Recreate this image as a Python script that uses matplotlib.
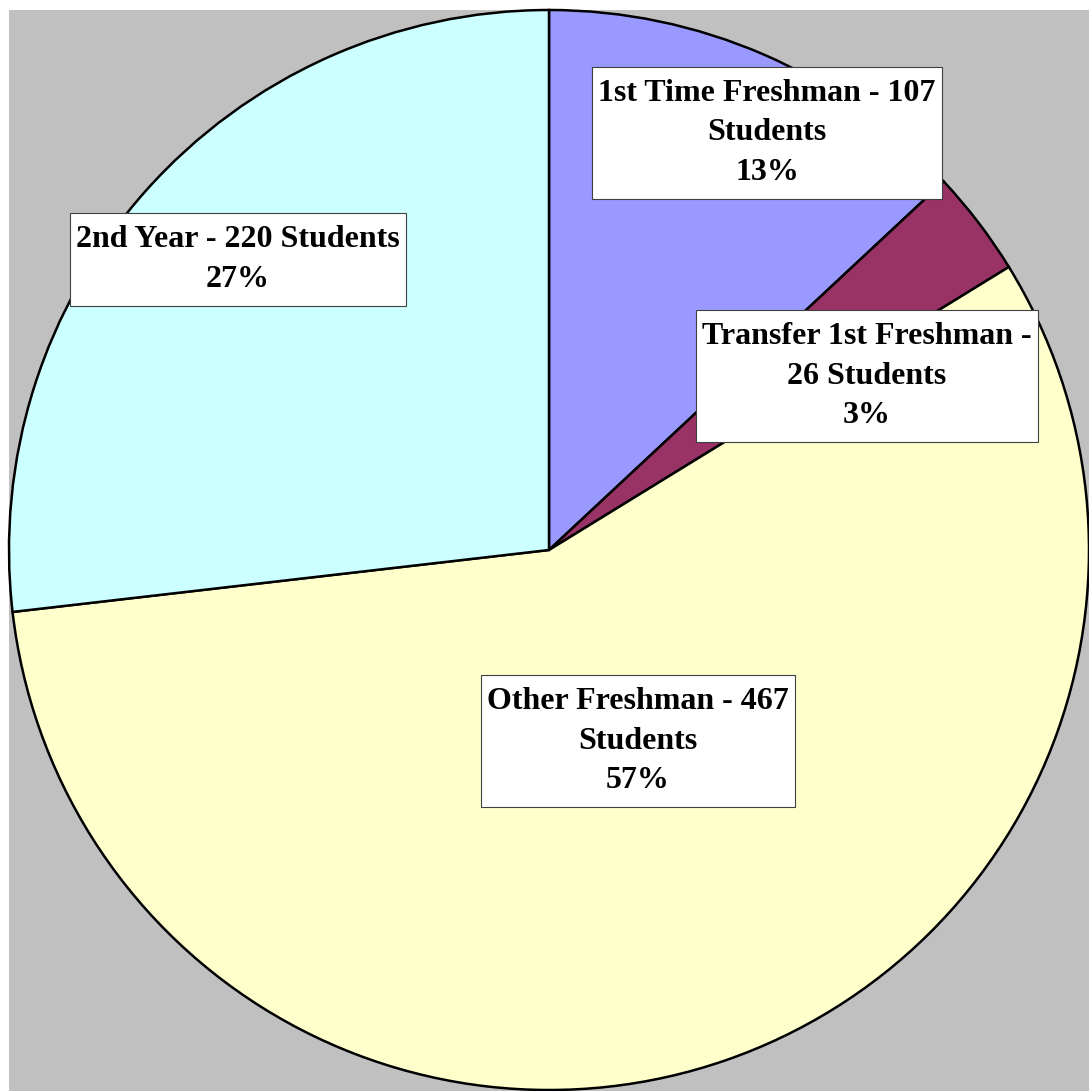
import matplotlib
matplotlib.use("Agg")
import matplotlib.pyplot as plt
from matplotlib.patches import Rectangle

categories = ["1st Time Freshman", "Transfer 1st Freshman", "Other Freshman", "2nd Year"]
students = [107, 26, 467, 220]
colors = ["#9999FF", "#993366", "#FFFFCC", "#CCFFFF"]
labels = [
	"1st Time Freshman - 107\nStudents\n13%",
	"Transfer 1st Freshman -\n26 Students\n3%",
	"Other Freshman - 467\nStudents\n57%",
	"2nd Year - 220 Students\n27%",
]
# label box centres in data units (pie radius = 1)
label_pos = [(0.404, 0.773), (0.589, 0.322), (0.165, -0.354), (-0.576, 0.538)]

W, H = 1089, 1091
fig = plt.figure(figsize=(W / 100, H / 100), dpi=100)
fig.patch.set_facecolor("white")
# gray plot area
fig.add_artist(Rectangle((9 / W, 0), 1 - 9 / W, 1 - 10 / H, transform=fig.transFigure,
	facecolor="#C0C0C0", edgecolor="none", zorder=-1))

ax = fig.add_axes([9 / W, 1 - 1090 / H, 1080 / W, 1080 / H])
ax.set_facecolor("none")
ax.pie(students, colors=colors, startangle=90, counterclock=False, radius=1,
	wedgeprops=dict(edgecolor="black", linewidth=1.8))
ax.set_xlim(-1, 1)
ax.set_ylim(-1, 1)
ax.set_aspect("equal")
ax.axis("off")

texts = []
for text, (x, y) in zip(labels, label_pos):
	t = ax.text(x, y, text, ha="center", va="center", family="Liberation Serif",
		fontweight="bold", fontsize=23, linespacing=1.48, zorder=5)
	texts.append(t)

# white label boxes, wider padding top/bottom than left/right
fig.canvas.draw()
renderer = fig.canvas.get_renderer()
inv = ax.transData.inverted()
padx, pady = 6, 12
for t in texts:
	bb = t.get_window_extent(renderer)
	(x0, y0), (x1, y1) = inv.transform([(bb.x0 - padx, bb.y0 - pady), (bb.x1 + padx, bb.y1 + pady)])
	ax.add_patch(Rectangle((x0, y0), x1 - x0, y1 - y0, facecolor="white",
		edgecolor="#404040", linewidth=0.8, zorder=4, clip_on=False))

plt.savefig("out.png", dpi=100)
plt.close()
